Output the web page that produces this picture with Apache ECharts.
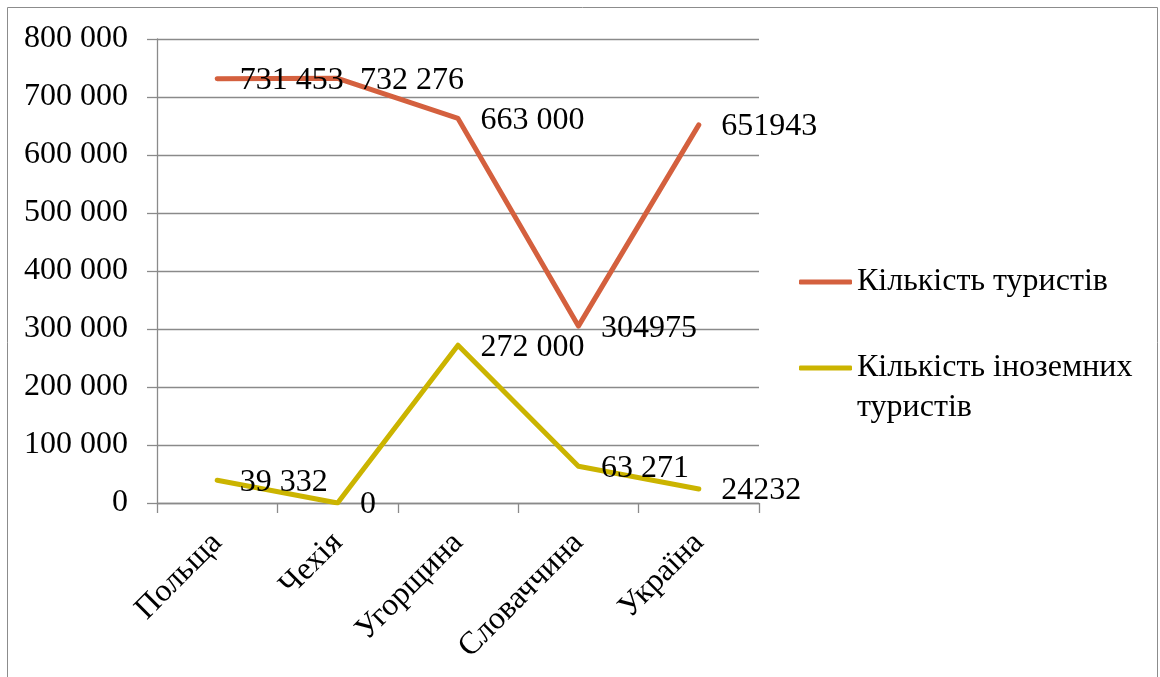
<!DOCTYPE html>
<html>
<head>
<meta charset="utf-8">
<script src="https://cdn.jsdelivr.net/npm/echarts@6/dist/echarts.min.js"></script>
<style>
  html, body { margin: 0; padding: 0; background: #fff; }
  #chart { width: 1160px; height: 677px; }
</style>
</head>
<body>
<div id="chart"></div>
<script>
// Countries on the category axis
const categories = ['Польща', 'Чехія', 'Угорщина', 'Словаччина', 'Україна'];
// Total number of tourists
const totalTourists = [731453, 732276, 663000, 304975, 651943];
// Number of foreign tourists
const foreignTourists = [39332, 0, 272000, 63271, 24232];
// Whether each value label is written with a thousands separator
const totalGrouped = [true, true, true, false, false];
const foreignGrouped = [true, true, true, true, false];
const seriesNames = ['Кількість туристів', 'Кількість іноземних туристів'];

const FONT = "'Liberation Serif', 'Times New Roman', serif";
const AXIS_GRAY = '#8a8a8a';

function groupThousands(v) {
  return String(v).replace(/\B(?=(\d{3})+(?!\d))/g, ' ');
}

function valueLabel(flags) {
  return {
    show: true,
    position: 'right',
    distance: 22,
    offset: [0, 2],
    color: '#000',
    fontFamily: FONT,
    fontSize: 32,
    formatter: p => flags[p.dataIndex] ? groupThousands(p.value) : String(p.value)
  };
}

const chart = echarts.init(document.getElementById('chart'), null, { renderer: 'canvas' });

chart.setOption({
  backgroundColor: '#fff',
  animation: false,
  textStyle: { fontFamily: FONT },
  graphic: [{
    type: 'rect',
    shape: { x: 7.5, y: 7.5, width: 1150, height: 690 },
    style: { fill: 'none', stroke: '#8c8c8c', lineWidth: 1 },
    silent: true,
    z: -1
  }],
  grid: { left: 157, right: 401, top: 39, bottom: 174, containLabel: false },
  legend: {
    orient: 'vertical',
    left: 799,
    top: 262,
    padding: 0,
    itemWidth: 53,
    itemHeight: 5,
    itemGap: 6,
    icon: 'roundRect',
    textStyle: { fontFamily: FONT, fontSize: 32, color: '#000', lineHeight: 40 },
    data: [seriesNames[0], seriesNames[1]],
    // the long name wraps onto a second line; the blank first line keeps
    // its first text line level with the legend line icon
    formatter: name => name === seriesNames[1] ? '\nКількість іноземних\nтуристів' : name
  },
  xAxis: {
    type: 'category',
    data: categories,
    boundaryGap: true,
    axisLine: { show: true, lineStyle: { color: AXIS_GRAY, width: 1.3 } },
    axisTick: { show: true, length: 10, lineStyle: { color: AXIS_GRAY, width: 1.3 } },
    axisLabel: {
      rotate: 45,
      margin: 35,
      color: '#000',
      fontFamily: FONT,
      fontSize: 32,
      interval: 0
    }
  },
  yAxis: {
    type: 'value',
    min: 0,
    max: 800000,
    interval: 100000,
    axisLine: { show: true, lineStyle: { color: AXIS_GRAY, width: 1.3 } },
    axisTick: { show: true, length: 10, lineStyle: { color: AXIS_GRAY, width: 1.3 } },
    splitLine: { show: true, lineStyle: { color: AXIS_GRAY, width: 1.3 } },
    axisLabel: {
      margin: 29,
      color: '#000',
      fontFamily: FONT,
      fontSize: 32,
      formatter: v => groupThousands(v)
    }
  },
  series: [
    {
      name: seriesNames[0],
      type: 'line',
      data: totalTourists,
      color: '#d4603e',
      lineStyle: { width: 5, color: '#d4603e', cap: 'round', join: 'round' },
      symbol: 'circle',
      symbolSize: 1,
      itemStyle: { color: '#d4603e' },
      label: valueLabel(totalGrouped),
      z: 3
    },
    {
      name: seriesNames[1],
      type: 'line',
      data: foreignTourists,
      color: '#cbb400',
      lineStyle: { width: 5, color: '#cbb400', cap: 'round', join: 'round' },
      symbol: 'circle',
      symbolSize: 1,
      itemStyle: { color: '#cbb400' },
      label: valueLabel(foreignGrouped),
      z: 3
    }
  ]
});
</script>
</body>
</html>
